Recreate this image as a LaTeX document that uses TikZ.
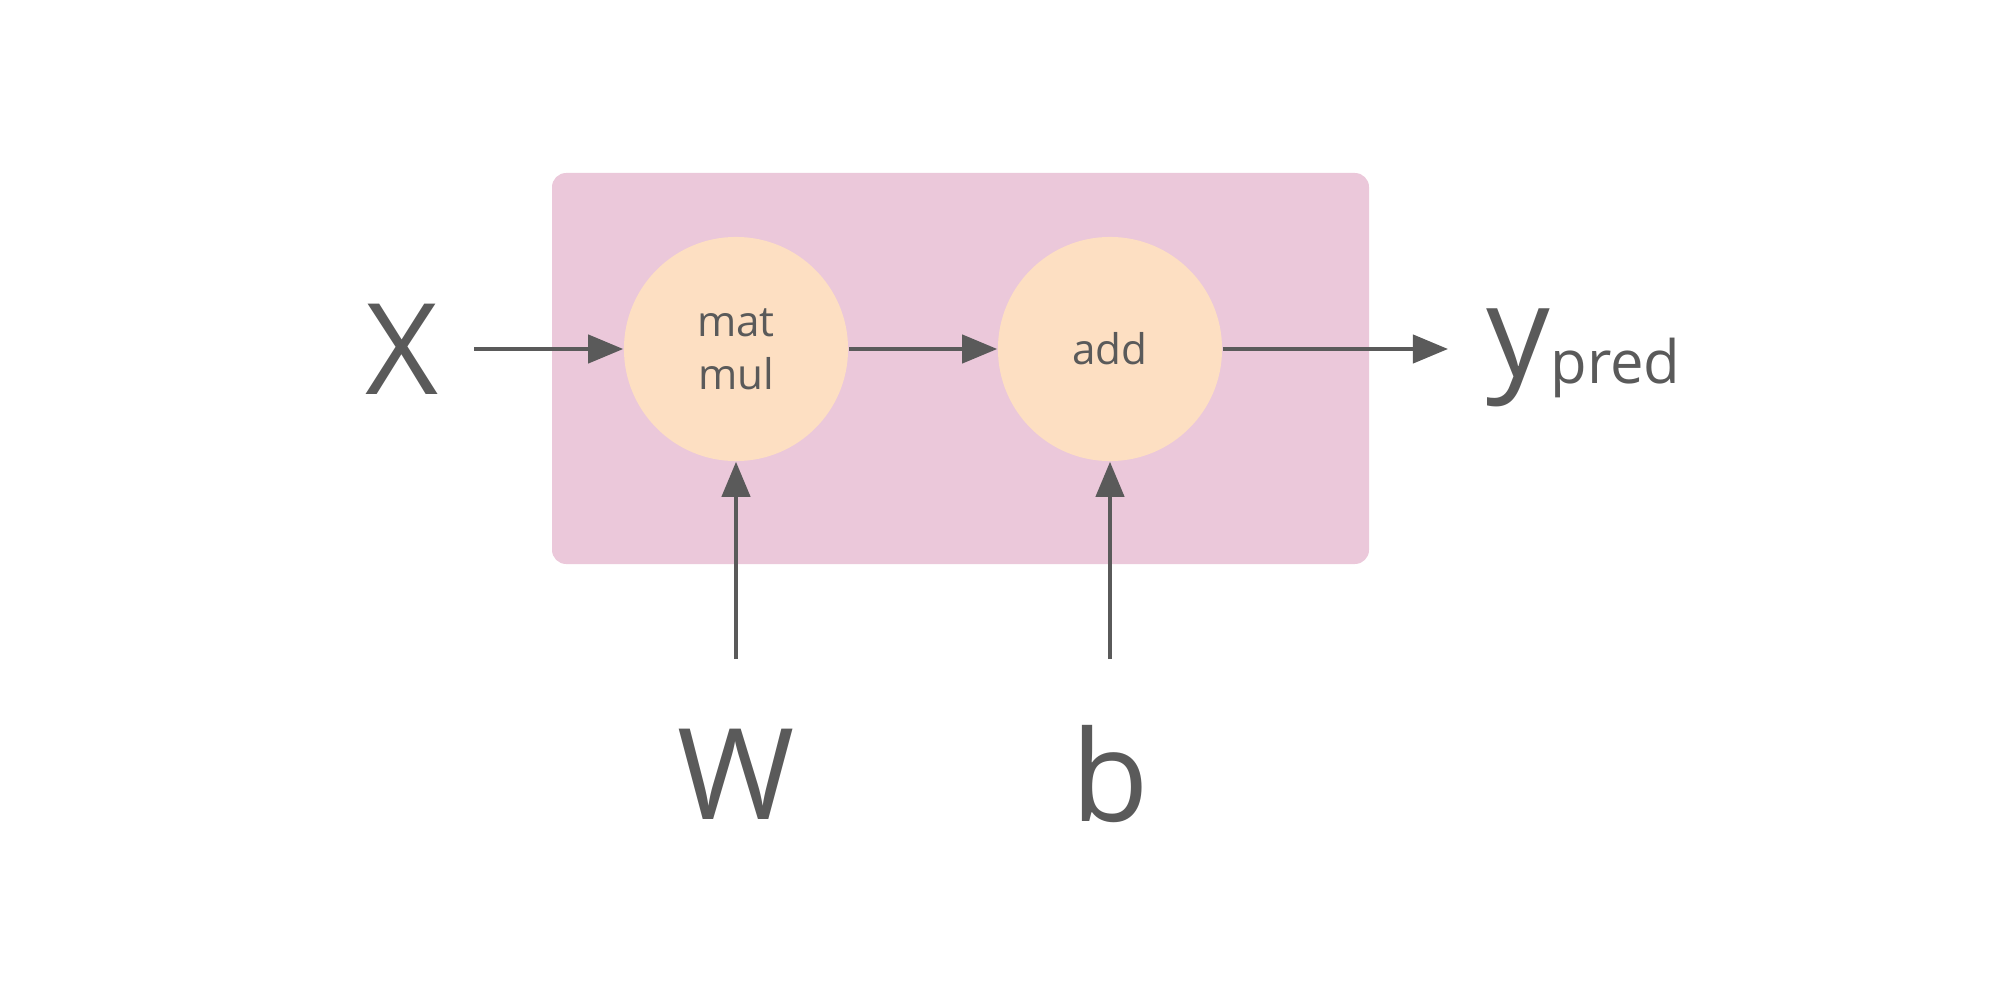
\documentclass[tikz,border=0pt]{standalone}
\usepackage{fontspec}
\setmainfont{Open Sans}
\usetikzlibrary{arrows.meta}
\definecolor{pinkbg}{HTML}{EBC8DA}
\definecolor{peach}{HTML}{FDDFC2}
\definecolor{ink}{HTML}{5A5A5A}
\tikzset{
  op/.style={circle,fill=peach,minimum size=2.24cm,inner sep=0pt,text=ink,font=\fontsize{12}{15}\selectfont,align=center},
  big/.style={text=ink,font=\fontsize{36}{40}\selectfont,inner sep=0pt},
  arr/.style={draw=ink,line width=1.2pt,-{Triangle[length=10pt,width=8pt]}}
}
\begin{document}
\begin{tikzpicture}[x=0.01cm,y=-0.01cm]
\useasboundingbox (0,0) rectangle (2000,988);
\fill[pinkbg,rounded corners=4pt] (552,173) rectangle (1369,564);
\node[op] (mm) at (736,349) {mat\\mul};
\node[op] (add) at (1110,349) {add};
\node[big] (x) at (402,349) {X};
\node[big,anchor=west] (y) at (1486,358) {y\raisebox{-0.05em}{\fontsize{17}{20}\selectfont pred}};
\node[big] (w) at (736,774) {W};
\node[big] (b) at (1110,774) {b};
\coordinate (xs) at (474,349);
\coordinate (ye) at (1448,349);
\coordinate (ws) at (736,659);
\coordinate (bs) at (1110,659);
\draw[arr] (xs) -- (mm.west);
\draw[arr] (mm.east) -- (add.west);
\draw[arr] (add.east) -- (ye);
\draw[arr] (ws) -- (mm.south);
\draw[arr] (bs) -- (add.south);
\end{tikzpicture}
\end{document}
